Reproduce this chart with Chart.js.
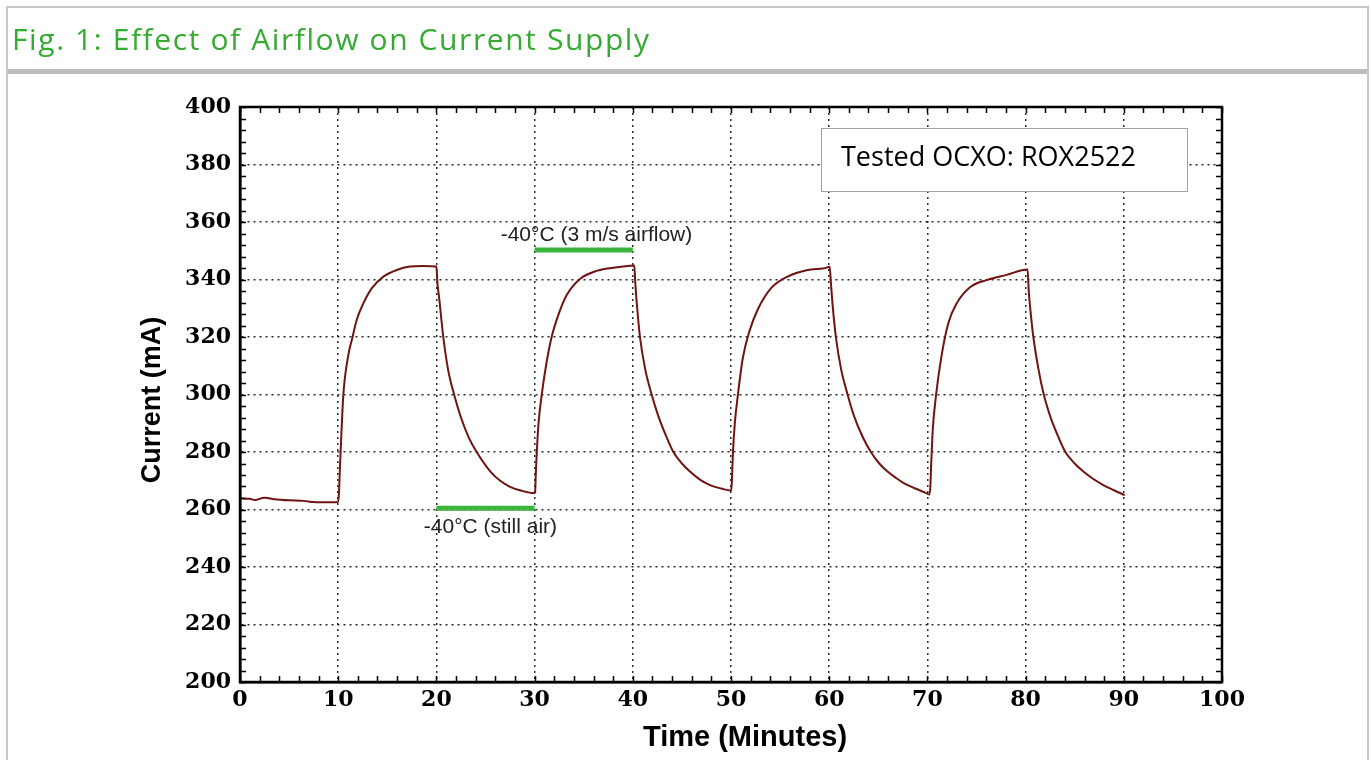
<!DOCTYPE html>
<html>
<head>
<meta charset="utf-8">
<script src="https://cdn.jsdelivr.net/npm/chart.js@4.4.1/dist/chart.umd.min.js"></script>
<style>
html,body{margin:0;padding:0;background:#fff;}
#wrap{position:relative;width:1371px;height:760px;overflow:hidden;background:#fff;}
#chart{position:absolute;left:0;top:0;}
#frame{position:absolute;left:6px;top:6px;width:1363px;height:820px;border:2px solid #c8c8c8;box-sizing:border-box;pointer-events:none;}
#hdrline{position:absolute;left:8px;top:69px;width:1359px;height:5px;background:#bdbdbd;}
#title{position:absolute;left:12px;top:19px;font-family:'Open Sans',sans-serif;font-size:30px;line-height:40px;color:#35ab32;letter-spacing:1.6px;white-space:nowrap;}
#note{position:absolute;left:821px;top:128px;width:367px;height:64px;border:1.5px solid #a0a0a0;box-sizing:border-box;background:#fff;}
#note span{position:absolute;left:19px;top:9px;font-family:'Open Sans',sans-serif;font-size:27px;line-height:36px;color:#000;white-space:nowrap;}
</style>
</head>
<body>
<div id="wrap">
  <canvas id="chart" width="1371" height="760"></canvas>
  <div id="frame"></div>
  <div id="hdrline"></div>
  <div id="title">Fig. 1: Effect of Airflow on Current Supply</div>
  <div id="note"><span>Tested OCXO: ROX2522</span></div>
</div>
<script>
// ---- data ----
const timeMin = [
  0, 1, 1.5, 2.5, 3.5, 5, 6.5, 7.5, 9, 10.0,
  10.08, 10.17, 10.32, 10.52, 11.03, 11.47, 11.88, 12.56, 13.41, 14.6, 15.95, 17.31, 18.67, 20.0,
  20.1, 20.3, 20.7, 21.2, 21.8, 22.5, 23.3, 24.1, 25.5, 26.5, 27.5, 28.7, 29.95,
  30.05, 30.12, 30.21, 30.4, 30.72, 31.23, 31.74, 32.42, 33.27, 34.62, 36.32, 38.02, 39.71, 40.15,
  40.25, 40.4, 40.73, 41.25, 41.92, 42.6, 43.4, 44.13, 45.0, 45.82, 46.8, 47.86, 49.0, 49.95,
  50.03, 50.1, 50.2, 50.4, 50.7, 51.2, 51.86, 52.7, 54.06, 55.76, 57.8, 59.5, 60.05,
  60.18, 60.35, 60.68, 61.2, 61.87, 62.55, 63.4, 64.24, 65.1, 65.94, 66.8, 67.64, 68.7, 69.7, 70.2,
  70.3, 70.4, 70.55, 70.88, 71.45, 72.13, 72.98, 74.34, 76.04, 78.07, 80.2,
  80.32, 80.5, 80.79, 81.3, 81.85, 82.6, 83.3, 84.05, 85.0, 85.88, 86.9, 87.91, 89.0, 90.1
];
const currentMA = [
  263.9, 263.7, 263.3, 264.1, 263.6, 263.2, 263.0, 262.6, 262.5, 262.6,
  266.0, 274.0, 286.0, 299.8, 313.7, 320.1, 325.9, 331.7, 336.9, 341.0, 343.3, 344.5, 344.7, 344.5,
  339.0, 333.0, 320.0, 308.5, 300.0, 292.0, 285.0, 280.0, 273.2, 270.0, 267.9, 266.5, 265.7,
  266.0, 272.0, 279.0, 290.0, 299.8, 311.4, 320.1, 327.7, 334.6, 340.2, 343.0, 344.1, 344.8, 344.9,
  339.0, 332.0, 320.0, 309.0, 300.0, 292.5, 285.5, 280.0, 276.0, 273.2, 270.5, 268.5, 267.3, 266.6,
  266.6, 271.0, 280.0, 290.5, 299.8, 312.6, 321.8, 329.4, 336.9, 341.0, 343.3, 343.9, 344.4,
  338.5, 331.0, 320.0, 309.0, 300.0, 292.3, 285.3, 280.0, 276.0, 273.2, 271.0, 269.1, 267.4, 266.0, 265.2,
  268.0, 277.0, 288.0, 299.8, 313.7, 324.8, 331.7, 337.3, 339.8, 341.6, 343.5,
  336.0, 329.0, 320.0, 309.0, 300.0, 291.5, 285.5, 280.0, 276.0, 273.2, 270.6, 268.5, 266.7, 265.0
];
const stillAirTime = [20, 30];
const stillAirLevel = [260.4, 260.4];
const airflowTime = [30, 40];
const airflowLevel = [350.3, 350.3];
const xTickValues = [0, 10, 20, 30, 40, 50, 60, 70, 80, 90, 100];
const yTickValues = [200, 220, 240, 260, 280, 300, 320, 340, 360, 380, 400];
const xAxisTitle = 'Time (Minutes)';
const yAxisTitle = 'Current (mA)';
const annotationTexts = ['-40°C (still air)', '-40°C (3 m/s airflow)'];
const annotationAt = [[25.5, 251.8], [36.3, 353.4]];

const toPoints = (xs, ys) => xs.map((x, i) => ({x: x, y: ys[i]}));

const edgeTransparent = (lo, hi) => (ctx) =>
  (ctx.tick && (ctx.tick.value === lo || ctx.tick.value === hi)) ? 'rgba(0,0,0,0)' : '#2a2a2a';

const decorPlugin = {
  id: 'decor',
  afterDraw(chart) {
    const {ctx, chartArea: a, scales: {x, y}} = chart;
    ctx.save();
    // minor ticks, inward, all four sides
    ctx.strokeStyle = '#000';
    ctx.lineWidth = 1.5;
    ctx.beginPath();
    for (let v = 0; v <= 100; v += 2) {
      const px = Math.round(x.getPixelForValue(v)) + 0.5;
      ctx.moveTo(px, a.bottom); ctx.lineTo(px, a.bottom - 6);
      ctx.moveTo(px, a.top); ctx.lineTo(px, a.top + 6);
    }
    for (let v = 200; v <= 400; v += 4) {
      const py = Math.round(y.getPixelForValue(v)) + 0.5;
      ctx.moveTo(a.left, py); ctx.lineTo(a.left + 6, py);
      ctx.moveTo(a.right, py); ctx.lineTo(a.right - 6, py);
    }
    ctx.stroke();
    // plot frame
    ctx.lineWidth = 2.5;
    ctx.strokeRect(a.left, a.top, a.right - a.left, a.bottom - a.top);
    // annotation labels
    ctx.fillStyle = '#222';
    ctx.font = '21px "Liberation Sans", Arial, sans-serif';
    ctx.textAlign = 'center';
    ctx.textBaseline = 'alphabetic';
    annotationTexts.forEach((t, i) => {
      ctx.fillText(t, x.getPixelForValue(annotationAt[i][0]), y.getPixelForValue(annotationAt[i][1]));
    });
    // axis titles
    ctx.fillStyle = '#000';
    ctx.textBaseline = 'middle';
    ctx.font = 'bold 29px "Liberation Sans", Arial, sans-serif';
    ctx.fillText(xAxisTitle, 745, 738);
    ctx.translate(153, 400);
    ctx.rotate(-Math.PI / 2);
    ctx.font = 'bold 27px "Liberation Sans", Arial, sans-serif';
    ctx.fillText(yAxisTitle, 0, 0);
    ctx.restore();
  }
};

new Chart(document.getElementById('chart'), {
  type: 'line',
  data: {
    datasets: [
      {
        label: 'Current',
        data: toPoints(timeMin, currentMA),
        borderColor: '#701313',
        borderWidth: 2,
        pointRadius: 0,
        cubicInterpolationMode: 'monotone',
        fill: false
      },
      {
        label: 'still air',
        data: toPoints(stillAirTime, stillAirLevel),
        borderColor: '#3db53d',
        borderWidth: 5,
        borderCapStyle: 'butt',
        pointRadius: 0,
        fill: false
      },
      {
        label: 'airflow',
        data: toPoints(airflowTime, airflowLevel),
        borderColor: '#3db53d',
        borderWidth: 5,
        borderCapStyle: 'butt',
        pointRadius: 0,
        fill: false
      }
    ]
  },
  options: {
    responsive: false,
    animation: false,
    devicePixelRatio: 1,
    layout: {padding: {left: 0, right: 149, top: 107, bottom: 0}},
    plugins: {legend: {display: false}, tooltip: {enabled: false}},
    scales: {
      x: {
        type: 'linear',
        min: 0, max: 100,
        afterFit: (s) => { s.height = 78; },
        afterBuildTicks: (s) => { s.ticks = xTickValues.map(v => ({value: v})); },
        grid: {color: edgeTransparent(0, 100), lineWidth: 1.5, drawTicks: false},
        border: {display: true, color: '#000', width: 2.5, dash: [2, 4]},
        ticks: {
          autoSkip: false, maxRotation: 0, padding: 5, color: '#000',
          font: {family: '"DejaVu Serif", serif', size: 22, weight: 'bold'}
        },
        title: {display: false}
      },
      y: {
        type: 'linear',
        min: 200, max: 400,
        afterFit: (s) => { s.width = 240; },
        afterBuildTicks: (s) => { s.ticks = yTickValues.map(v => ({value: v})); },
        grid: {color: edgeTransparent(200, 400), lineWidth: 1.5, drawTicks: false},
        border: {display: true, color: '#000', width: 2.5, dash: [2, 4]},
        ticks: {
          autoSkip: false, padding: 9, color: '#000',
          font: {family: '"DejaVu Serif", serif', size: 22, weight: 'bold'}
        },
        title: {display: false}
      }
    }
  },
  plugins: [decorPlugin]
});
</script>
</body>
</html>
